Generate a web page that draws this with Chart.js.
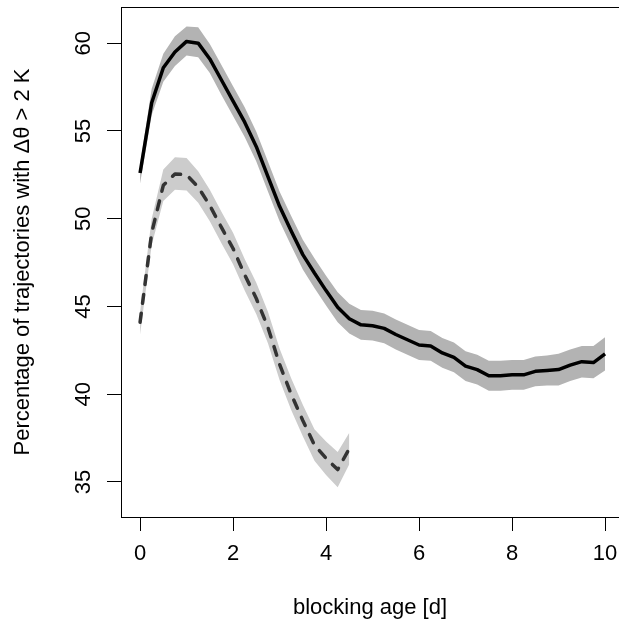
<!DOCTYPE html>
<html lang="en">
<head>
    <meta charset="UTF-8">
    <title>Blocking age</title>
    <style>
        body {
            margin: 0;
            background-color: #ffffff;
        }

        #wrap {
            width: 619px;
            height: 625px;
        }
    </style>
</head>
<body>
    <div id="wrap"><canvas id="ageChart" width="619" height="625"></canvas></div>

    <script src="https://cdn.jsdelivr.net/npm/chart.js"></script>
    <script>
        // blocking age [d]
        const ageSolid = [0, 0.25, 0.5, 0.75, 1, 1.25, 1.5, 1.75, 2, 2.25, 2.5, 2.75, 3, 3.25, 3.5, 3.75, 4, 4.25, 4.5, 4.75,
            5, 5.25, 5.5, 5.75, 6, 6.25, 6.5, 6.75, 7, 7.25, 7.5, 7.75, 8, 8.25, 8.5, 8.75, 9, 9.25, 9.5, 9.75, 10];
        const ageDashed = [0, 0.25, 0.5, 0.75, 1, 1.25, 1.5, 1.75, 2, 2.25, 2.5, 2.75, 3, 3.25, 3.5, 3.75, 4, 4.25, 4.5];

        // percentage, solid curve with its band
        const meanSolid = [52.6, 56.6, 58.6, 59.5, 60.1, 60.0, 59.1, 57.9, 56.7, 55.5, 54.1, 52.4, 50.7, 49.3, 47.95, 46.9, 45.9, 44.95, 44.3, 43.95,
            43.9, 43.75, 43.4, 43.1, 42.8, 42.75, 42.35, 42.1, 41.6, 41.4, 41.05, 41.05, 41.1, 41.1, 41.3, 41.35, 41.4, 41.65, 41.85, 41.8, 42.3];
        const lowSolid = [52.0, 55.9, 57.8, 58.7, 59.3, 59.2, 58.3, 57.05, 55.85, 54.65, 53.25, 51.55, 49.85, 48.45, 47.1, 46.05, 45.05, 44.1, 43.45, 43.1,
            43.05, 42.9, 42.55, 42.25, 41.95, 41.9, 41.5, 41.25, 40.75, 40.55, 40.2, 40.2, 40.25, 40.25, 40.45, 40.5, 40.5, 40.75, 40.95, 40.9, 41.35];
        const highSolid = [53.1, 57.4, 59.4, 60.4, 60.95, 60.9, 59.95, 58.75, 57.55, 56.35, 54.95, 53.25, 51.55, 50.15, 48.8, 47.75, 46.75, 45.8, 45.15, 44.8,
            44.75, 44.6, 44.25, 43.95, 43.65, 43.6, 43.2, 42.95, 42.45, 42.25, 41.9, 41.9, 41.95, 41.95, 42.15, 42.2, 42.3, 42.55, 42.75, 42.75, 43.25];

        // percentage, dashed curve with its band
        const meanDashed = [44.1, 49.2, 51.9, 52.55, 52.5, 51.8, 50.75, 49.5, 48.3, 46.8, 45.45, 43.8, 41.7, 40.0, 38.5, 37.1, 36.35, 35.7, 36.9];
        const lowDashed = [43.4, 48.5, 51.0, 51.65, 51.6, 50.9, 49.85, 48.6, 47.4, 45.9, 44.55, 42.9, 40.8, 39.1, 37.6, 36.2, 35.4, 34.7, 36.0];
        const highDashed = [44.7, 50.0, 52.8, 53.5, 53.45, 52.7, 51.65, 50.4, 49.2, 47.7, 46.35, 44.7, 42.6, 40.9, 39.4, 38.0, 37.3, 36.7, 37.8];

        const xTicks = [0, 2, 4, 6, 8, 10];
        const yTicks = [35, 40, 45, 50, 55, 60];

        function pts(xs, ys) {
            return xs.map((x, i) => ({ x: x, y: ys[i] }));
        }

        Chart.defaults.font.family = '"Liberation Sans", Arial, Helvetica, sans-serif';
        Chart.defaults.font.size = 22;
        Chart.defaults.color = '#000000';

        // R style box round the plot region (right side falls off the canvas)
        const plotBox = {
            id: 'plotBox',
            afterDraw(chart) {
                const a = chart.chartArea;
                const ctx = chart.ctx;
                ctx.save();
                ctx.strokeStyle = '#000000';
                ctx.lineWidth = 1;
                ctx.strokeRect(a.left + 0.5, a.top + 0.5, a.right - a.left + 10, a.bottom - a.top);
                ctx.restore();
            }
        };

        const band = (data, color, fill) => ({
            data: data,
            borderWidth: 0,
            pointRadius: 0,
            backgroundColor: color,
            fill: fill
        });

        new Chart(document.getElementById('ageChart').getContext('2d'), {
            type: 'line',
            data: {
                datasets: [
                    {
                        data: pts(ageSolid, meanSolid),
                        borderColor: '#000000',
                        borderWidth: 3.5,
                        pointRadius: 0,
                        borderJoinStyle: 'round',
                        fill: false
                    },
                    {
                        data: pts(ageDashed, meanDashed),
                        borderColor: '#333333',
                        borderWidth: 3.5,
                        borderDash: [9, 10],
                        borderCapStyle: 'round',
                        borderJoinStyle: 'round',
                        pointRadius: 0,
                        fill: false
                    },
                    band(pts(ageSolid, highSolid), '#b3b3b3', false),
                    band(pts(ageSolid, lowSolid), '#b3b3b3', '-1'),
                    band(pts(ageDashed, highDashed), '#cccccc', false),
                    band(pts(ageDashed, lowDashed), '#cccccc', '-1')
                ]
            },
            options: {
                responsive: false,
                animation: false,
                layout: { padding: { top: 7, right: 0, left: 0, bottom: 0 } },
                plugins: {
                    legend: { display: false },
                    tooltip: { enabled: false },
                    filler: { drawTime: 'beforeDatasetsDraw' }
                },
                scales: {
                    x: {
                        type: 'linear',
                        min: -0.41,
                        max: 10.30,
                        afterBuildTicks: axis => { axis.ticks = xTicks.map(v => ({ value: v })); },
                        afterFit: axis => { axis.height = 108; axis.paddingLeft = 0; axis.paddingRight = 0; },
                        border: { display: false },
                        grid: { drawOnChartArea: false, color: '#000000', tickColor: '#000000', tickLength: 14 },
                        ticks: { padding: 10, maxRotation: 0 },
                        title: { display: true, text: 'blocking age [d]', padding: { top: 0, bottom: 4 } }
                    },
                    y: {
                        min: 33.0,
                        max: 62.06,
                        afterBuildTicks: axis => { axis.ticks = yTicks.map(v => ({ value: v })); },
                        afterFit: axis => { axis.width = 121; axis.paddingTop = 0; axis.paddingBottom = 0; },
                        border: { display: false },
                        grid: { drawOnChartArea: false, color: '#000000', tickColor: '#000000', tickLength: 14 },
                        ticks: { padding: 11, minRotation: 90, maxRotation: 90, crossAlign: 'center' },
                        title: { display: true, text: 'Percentage of trajectories with \u0394\u03b8 > 2 K', padding: { top: 10, bottom: 0 } }
                    }
                }
            },
            plugins: [plotBox]
        });
    </script>
</body>
</html>
